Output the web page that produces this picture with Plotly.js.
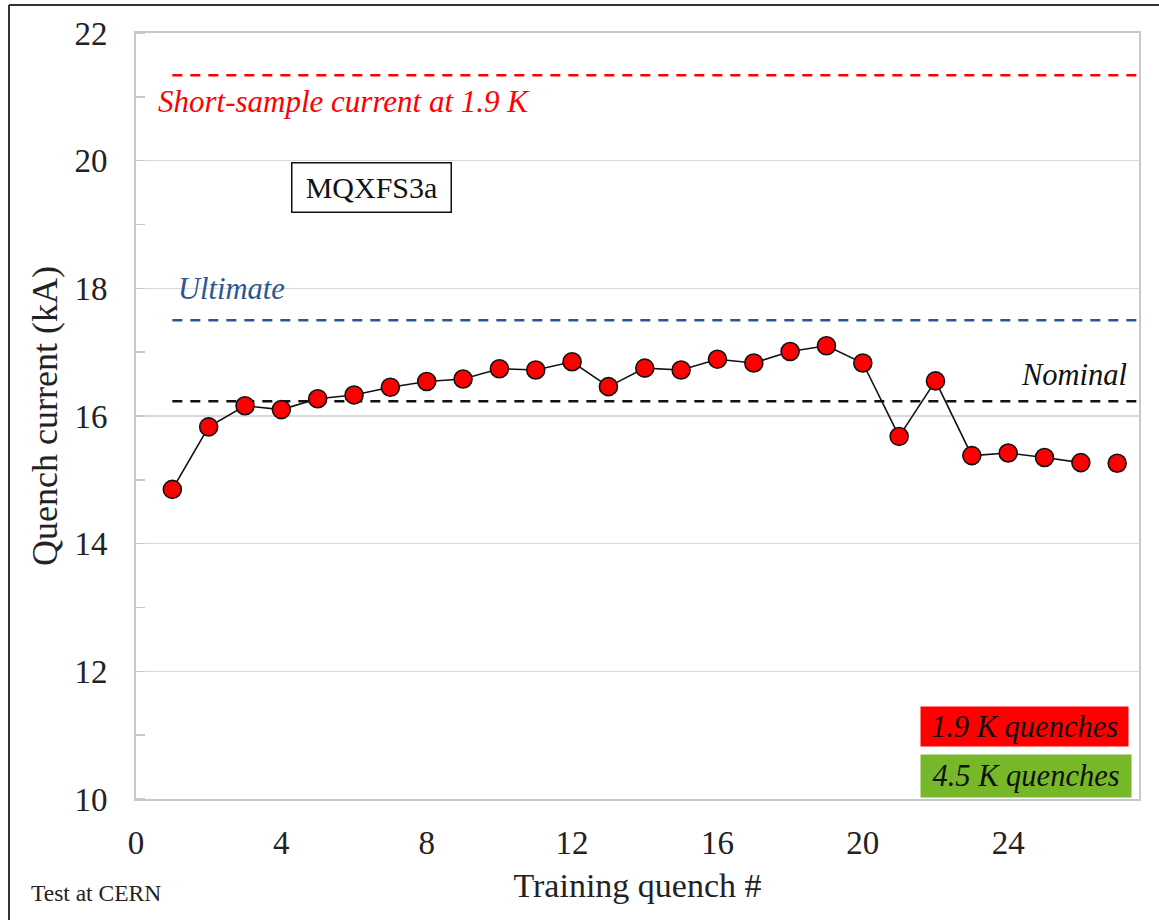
<!DOCTYPE html>
<html><head><meta charset="utf-8">
<script src="https://cdn.plot.ly/plotly-3.0.1.min.js"></script>
<style>html,body{margin:0;padding:0;background:#fff}#chart{width:1159px;height:920px}</style>
</head><body><div id="chart"></div>
<script>
// ---- data ----
const quenchNumber = [1,2,3,4,5,6,7,8,9,10,11,12,13,14,15,16,17,18,19,20,21,22,23,24,25,26,27];
const quenchCurrent = [14.85,15.83,16.16,16.10,16.27,16.33,16.45,16.54,16.58,16.74,16.72,16.85,16.46,16.75,16.72,16.89,16.83,17.01,17.10,16.83,15.68,16.55,15.38,15.42,15.35,15.27,15.26];
const linkedQuenches = 26; // quenches joined by the line
const shortSampleCurrent = 21.34;
const ultimateCurrent = 17.5;
const nominalCurrent = 16.23;
const refLineStart = 1;
const xTickVals = [0,4,8,12,16,20,24];
const yTickVals = [10,12,14,16,18,20,22];
const xRange = [0, 27.6];
const yRange = [10, 22];

const serif = 'Liberation Serif, Times New Roman, serif';
const blue = '#2d5592';

// plot-area pixel helpers for paper placement
const PL = 136, PR = 1139, PT = 33, PB = 799;
const px = v => (v - PL) / (PR - PL);
const py = v => (PB - v) / (PB - PT);

function refLine(y, color) {
  return {type:'scatter', mode:'lines', x:[refLineStart, xRange[1]], y:[y, y],
    line:{color:color, width:2.5, dash:'10px,8px'}, hoverinfo:'skip', showlegend:false, cliponaxis:false};
}

const traces = [
  refLine(shortSampleCurrent, '#ff0000'),
  refLine(ultimateCurrent, blue),
  refLine(nominalCurrent, '#111111'),
  {type:'scatter', mode:'lines', x:quenchNumber.slice(0, linkedQuenches), y:quenchCurrent.slice(0, linkedQuenches),
    line:{color:'#111', width:1.6}, hoverinfo:'skip', showlegend:false},
  {type:'scatter', mode:'markers', x:quenchNumber, y:quenchCurrent,
    marker:{color:'#ff0000', size:18, line:{color:'#111', width:1.6}}, showlegend:false, cliponaxis:false}
];

const layout = {
  width:1159, height:920,
  margin:{l:PL, r:1159-PR, t:PT, b:920-PB},
  paper_bgcolor:'#fff', plot_bgcolor:'#fff',
  font:{family:serif, color:'#222'},
  showlegend:false,
  xaxis:{range:xRange, tickvals:xTickVals, ticks:'', ticklabelstandoff:13,
    tickfont:{size:33, family:serif, color:'#222'},
    showgrid:false, zeroline:false, showline:true, linecolor:'#c8c8c8', linewidth:2, mirror:true,
    title:{text:'Training quench #', font:{size:34, family:serif, color:'#222'}, standoff:14}},
  yaxis:{range:yRange, tickvals:yTickVals, ticks:'', ticklabelstandoff:20,
    tickfont:{size:33, family:serif, color:'#222'},
    showgrid:true, gridcolor:'#d9d9d9', gridwidth:1.5, zeroline:false,
    showline:true, linecolor:'#c8c8c8', linewidth:2, mirror:true,
    minor:{dtick:1, tick0:11, ticks:'inside', ticklen:9, tickcolor:'#c8c8c8', tickwidth:1.5, showgrid:false},
    title:{text:'Quench current (kA)', font:{size:36, family:serif, color:'#222'}, standoff:6}},
  shapes:[
    {type:'line', xref:'paper', yref:'paper', x0:px(9), x1:px(1159), y0:py(5), y1:py(5), line:{color:'#333', width:2}},
    {type:'line', xref:'paper', yref:'paper', x0:px(9), x1:px(9), y0:py(5), y1:py(920), line:{color:'#333', width:2}}
  ],
  annotations:[
    {xref:'paper', yref:'paper', x:px(156), y:py(102), xanchor:'left', yanchor:'middle', showarrow:false,
      text:'<i>Short-sample current at 1.9 K</i>', font:{size:31, family:serif, color:'#ff0000'}},
    {xref:'paper', yref:'paper', x:px(176), y:py(289), xanchor:'left', yanchor:'middle', showarrow:false,
      text:'<i>Ultimate</i>', font:{size:30.5, family:serif, color:blue}},
    {xref:'paper', yref:'paper', x:px(1129), y:py(375), xanchor:'right', yanchor:'middle', showarrow:false,
      text:'<i>Nominal</i>', font:{size:30.5, family:serif, color:'#111'}},
    {xref:'paper', yref:'paper', x:px(371), y:py(187), xanchor:'center', yanchor:'middle', showarrow:false,
      text:'MQXFS3a', font:{size:30, family:serif, color:'#111'}, width:158, height:48, borderpad:0,
      bordercolor:'#111', borderwidth:1.5, bgcolor:'#fff'},
    {xref:'paper', yref:'paper', x:px(1024.5), y:py(726.5), xanchor:'center', yanchor:'middle', showarrow:false,
      text:'<i>1.9 K quenches</i>', font:{size:30.5, family:serif, color:'#111'}, width:207, height:39, borderpad:0,
      bgcolor:'#ff0000'},
    {xref:'paper', yref:'paper', x:px(1026), y:py(776), xanchor:'center', yanchor:'middle', showarrow:false,
      text:'<i>4.5 K quenches</i>', font:{size:30.5, family:serif, color:'#111'}, width:210, height:42, borderpad:0,
      bgcolor:'#76b82a'},
    {xref:'paper', yref:'paper', x:px(29), y:py(893), xanchor:'left', yanchor:'middle', showarrow:false,
      text:'Test at CERN', font:{size:23.5, family:serif, color:'#222'}}
  ]
};

Plotly.newPlot('chart', traces, layout, {displayModeBar:false, staticPlot:true});
</script>
</body></html>
